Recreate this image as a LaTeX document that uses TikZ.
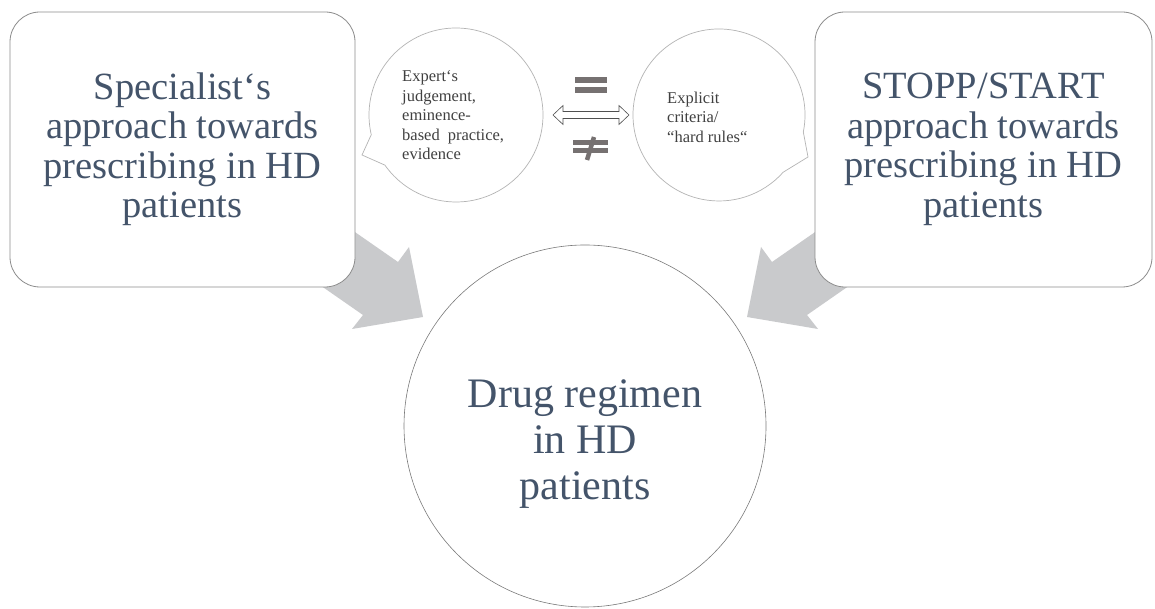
\documentclass[tikz,border=0pt]{standalone}
\usepackage{fontspec}
\setmainfont{Liberation Serif}
\definecolor{maintext}{HTML}{44546A}
\definecolor{boxline}{HTML}{8C8C8C}
\definecolor{circleline}{HTML}{7A7A7A}
\definecolor{bubbleline}{HTML}{B4B4B4}
\definecolor{bubbletxt}{HTML}{404040}
\definecolor{arrowgray}{HTML}{C9CACC}
\definecolor{eqgray}{HTML}{767171}
\definecolor{dblarrow}{HTML}{505050}
\begin{document}
\begin{tikzpicture}[x=1pt,y=1pt,
  box/.style={draw=boxline, line width=0.8pt, fill=white, rounded corners=30pt,
    minimum height=275pt, inner sep=0pt, align=center, text=maintext,
    font=\fontsize{38.5}{39.5}\selectfont},
  bubble/.style={draw=bubbleline, line width=0.7pt, fill=white},
  bubbletext/.style={text=bubbletxt, align=left, inner sep=0pt, anchor=north west,
    font=\fontsize{16.5}{19.5}\selectfont},
  blockarrow/.style={fill=arrowgray, draw=none},
  sign/.style={fill=eqgray, draw=none}]
% canvas
\fill[white] (0,0) rectangle (1155,609);
\useasboundingbox (0,0) rectangle (1155,609);

% grey block arrows, partly hidden behind the boxes
\fill[blockarrow] (316,404) -- (398,347) -- (409,362) -- (423,292) -- (352,280)
  -- (363,294) -- (281,351) -- cycle;
\fill[blockarrow] (854,404) -- (772,347) -- (761,362) -- (747,292) -- (818,280)
  -- (807,294) -- (889,351) -- cycle;

% the two approaches
\node[box, minimum width=345pt] (specialist) at (182.5,459.5)
  {Specialist‘s\\approach towards\\prescribing in HD\\patients};
\node[box, minimum width=337pt] (stopp) at (983.5,459.5)
  {STOPP/START\\approach towards\\prescribing in HD\\patients};

% result
\node[circle, draw=circleline, line width=0.6pt, fill=white, minimum size=362pt,
  inner sep=0pt] (regimen) at (585,183) {};
\node[text=maintext, align=center, inner sep=0pt, font=\fontsize{42}{46}\selectfont]
  (regimentext) at (585,165) {Drug regimen\\in HD\\patients};

% speech bubbles
\coordinate (lbc) at (456,494);
\coordinate (rbc) at (719,494);
\coordinate (ltip) at (362,454);
\coordinate (rtip) at (808,452);
\draw[bubble] ([shift={(215.2:87pt)}]lbc) arc[start angle=215.2, end angle=553.1, radius=87pt]
  -- (ltip) -- cycle;
\draw[bubble] ([shift={(348.6:86pt)}]rbc) arc[start angle=348.6, end angle=678.3, radius=86pt]
  -- (rtip) -- cycle;
\node[bubbletext] (expert) at (402,538.5)
  {Expert‘s\\judgement,\\eminence-\\based\hspace{8pt}practice,\\evidence};
\node[bubbletext] (explicit) at (667,517.5)
  {Explicit\\criteria/\\“hard rules“};

% equal / not equal signs
\fill[sign] (575,532.3) rectangle (607,526.3);
\fill[sign] (575,522.3) rectangle (607,516.3);
\fill[sign] (573,469) rectangle (608,464);
\fill[sign] (573,461) rectangle (608,456);
\draw[eqgray, line width=4.5pt] (594,472) -- (587,449);

% double-headed outline arrow
\draw[dblarrow, line width=0.6pt, fill=white] (553,494) -- (563,503.5) -- (563,497.5)
  -- (619,497.5) -- (619,503.5) -- (629,494) -- (619,484.5) -- (619,490.5)
  -- (563,490.5) -- (563,484.5) -- cycle;
\end{tikzpicture}
\end{document}
